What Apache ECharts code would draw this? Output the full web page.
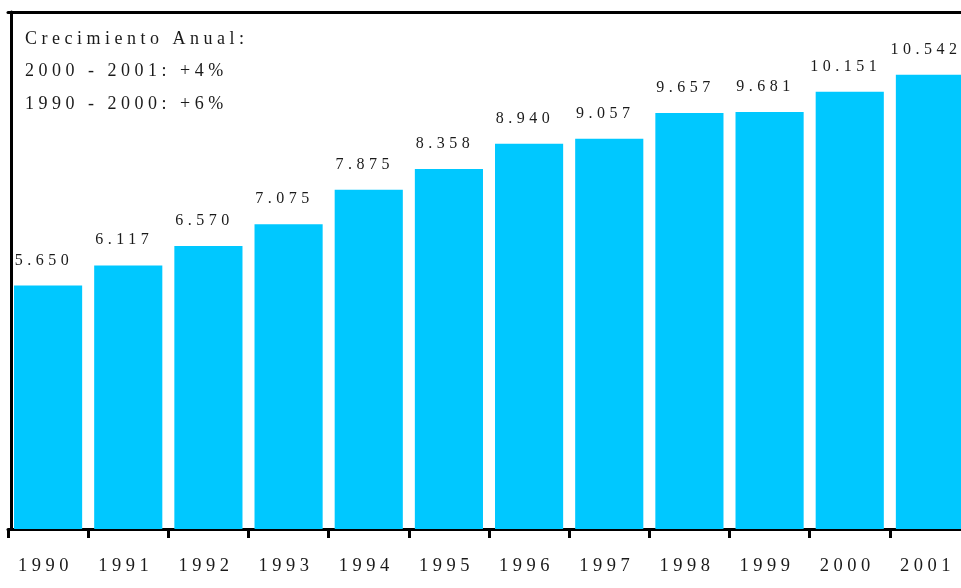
<!DOCTYPE html>
<html>
<head>
<meta charset="utf-8">
<script src="https://cdn.jsdelivr.net/npm/echarts@6/dist/echarts.min.js"></script>
<style>
html,body{margin:0;padding:0;background:#fff;overflow:hidden;width:961px;height:588px;}
#c{width:971px;height:588px;}
</style>
</head>
<body>
<div id="c"></div>
<script>
var categories = ['1990','1991','1992','1993','1994','1995','1996','1997','1998','1999','2000','2001'];
var values = [5650, 6117, 6570, 7075, 7875, 8358, 8940, 9057, 9657, 9681, 10151, 10542];
var noteLines = ['Crecimiento Anual:', '2000 - 2001: +4%', '1990 - 2000: +6%'];

function fmt(v){
  return String(v).replace(/\B(?=(\d{3})+(?!\d))/g, '.');
}

// wide letter spacing as in the reference typography
(function(){
  var LS = '4.5px';
  var proto = window.CanvasRenderingContext2D && CanvasRenderingContext2D.prototype;
  if (!proto) return;
  var of = proto.fillText, om = proto.measureText;
  proto.fillText = function(){ try { this.letterSpacing = LS; } catch(e) {} return of.apply(this, arguments); };
  proto.measureText = function(){ try { this.letterSpacing = LS; } catch(e) {} return om.apply(this, arguments); };
})();

var chart = echarts.init(document.getElementById('c'), null, {renderer:'canvas'});

var serif = '"Liberation Serif", "DejaVu Serif", serif';
chart.setOption({
  animation: false,
  backgroundColor: '#ffffff',
  title: {
    text: noteLines.join('\n'),
    left: 25,
    top: 23,
    padding: 0,
    textStyle: {fontFamily: serif, fontSize: 18, fontWeight: 'normal', color: '#1a1a1a', lineHeight: 32.5}
  },
  grid: {left: 8, top: 12, right: 1, height: 517, containLabel: false},
  xAxis: [{
    type: 'category',
    data: categories,
    position: 'bottom',
    axisLine: {show: true, lineStyle: {color: '#000', width: 3}},
    axisTick: {show: true, length: 9, lineStyle: {color: '#000', width: 3}},
    axisLabel: {fontFamily: serif, fontSize: 18.5, color: '#1a1a1a', margin: 25, interval: 0, padding: [0, 5, 0, 0]}
  }, {
    type: 'category',
    data: categories,
    position: 'top',
    axisLine: {show: true, lineStyle: {color: '#000', width: 3}},
    axisTick: {show: false},
    axisLabel: {show: false}
  }],
  yAxis: {
    type: 'value',
    min: 0,
    max: 12000,
    offset: -3,
    axisLine: {show: true, lineStyle: {color: '#000', width: 3}},
    axisTick: {show: false},
    axisLabel: {show: false},
    splitLine: {show: false}
  },
  series: [{
    type: 'bar',
    data: values,
    barWidth: '85%',
    itemStyle: {color: '#00C8FF'},
    label: {
      show: true,
      position: 'top',
      distance: 15,
      offset: [-4, 0],
      fontFamily: serif,
      fontSize: 16,
      color: '#1a1a1a',
      formatter: function(p){ return fmt(p.value); }
    }
  }]
});
</script>
</body>
</html>
